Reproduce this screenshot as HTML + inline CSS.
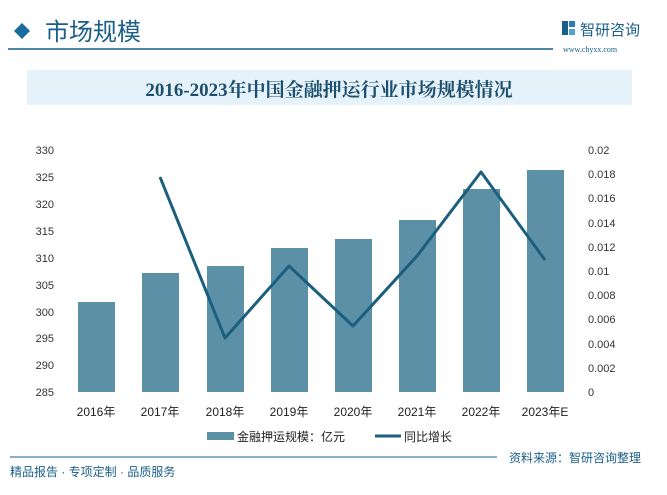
<!DOCTYPE html>
<html><head><meta charset="utf-8"><style>
body{margin:0;width:667px;height:490px;background:#fff;overflow:hidden;font-family:"Liberation Sans","Noto Sans CJK SC",sans-serif;}
</style></head><body>
<svg width="667" height="490" xmlns="http://www.w3.org/2000/svg" font-family="Liberation Sans, Noto Sans CJK SC, sans-serif">
<polygon points="14,31 22,23 30,31 22,39" fill="#1a6c9c"/>
<text x="45" y="40" font-size="24" fill="#1a5f8a">市场规模</text>
<line x1="8" y1="49" x2="553" y2="49" stroke="#1a5f8a" stroke-width="1.5"/>
<rect x="562" y="21" width="6" height="14" fill="#1a5f8a"/><rect x="569" y="21" width="6" height="6" fill="#2a7ab8"/><rect x="569" y="29" width="6" height="6" fill="#4aa3d8"/>
<text x="580" y="35" font-size="15" fill="#1a5f8a">智研咨询</text>
<text x="563" y="52" font-size="8" fill="#1a5f8a" font-family="Liberation Serif, serif">www.chyxx.com</text>
<rect x="27" y="70" width="605" height="35" fill="#e6f2f9"/>
<text x="329" y="96" font-size="19" font-weight="bold" fill="#1d4f6e" text-anchor="middle" font-family="Liberation Serif, Noto Serif CJK SC, serif">2016-2023年中国金融押运行业市场规模情况</text>
<g font-size="11" fill="#333">
<text x="54" y="154" text-anchor="end">330</text><text x="54" y="181" text-anchor="end">325</text><text x="54" y="208" text-anchor="end">320</text><text x="54" y="235" text-anchor="end">315</text><text x="54" y="262" text-anchor="end">310</text><text x="54" y="289" text-anchor="end">305</text><text x="54" y="316" text-anchor="end">300</text><text x="54" y="342" text-anchor="end">295</text><text x="54" y="369" text-anchor="end">290</text><text x="54" y="396" text-anchor="end">285</text>
<text x="588" y="154">0.02</text><text x="588" y="178">0.018</text><text x="588" y="202">0.016</text><text x="588" y="227">0.014</text><text x="588" y="251">0.012</text><text x="588" y="275">0.01</text><text x="588" y="299">0.008</text><text x="588" y="323">0.006</text><text x="588" y="348">0.004</text><text x="588" y="372">0.002</text><text x="588" y="396">0</text>
</g>
<g fill="#5b90a7">
<rect x="78" y="302" width="37" height="90"/><rect x="142" y="273" width="37" height="119"/><rect x="207" y="266" width="37" height="126"/><rect x="271" y="248" width="37" height="144"/><rect x="335" y="239" width="37" height="153"/><rect x="399" y="220" width="37" height="172"/><rect x="463" y="189" width="37" height="203"/><rect x="527" y="170" width="37" height="222"/>
</g>
<polyline points="160,177 225,338 289,266 353,326 417,256 481,172 545,260" fill="none" stroke="#1b5e7e" stroke-width="3" stroke-linejoin="round"/>
<g font-size="12" fill="#222" text-anchor="middle">
<text x="96" y="416">2016年</text><text x="160" y="416">2017年</text><text x="225" y="416">2018年</text><text x="289" y="416">2019年</text><text x="353" y="416">2020年</text><text x="417" y="416">2021年</text><text x="481" y="416">2022年</text><text x="545" y="416">2023年E</text>
</g>
<rect x="207" y="432" width="27" height="8" fill="#5b90a7"/>
<text x="237" y="441" font-size="12" fill="#222">金融押运规模：亿元</text>
<line x1="375" y1="436" x2="401" y2="436" stroke="#1b5e7e" stroke-width="3"/>
<text x="404" y="441" font-size="12" fill="#222">同比增长</text>
<line x1="10" y1="457" x2="497" y2="457" stroke="#1a5f8a" stroke-width="1"/>
<text x="509" y="462" font-size="12" fill="#1a5f8a">资料来源：智研咨询整理</text>
<text x="10" y="476" font-size="12" fill="#1a5f8a">精品报告 · 专项定制 · 品质服务</text>
</svg>
</body></html>
